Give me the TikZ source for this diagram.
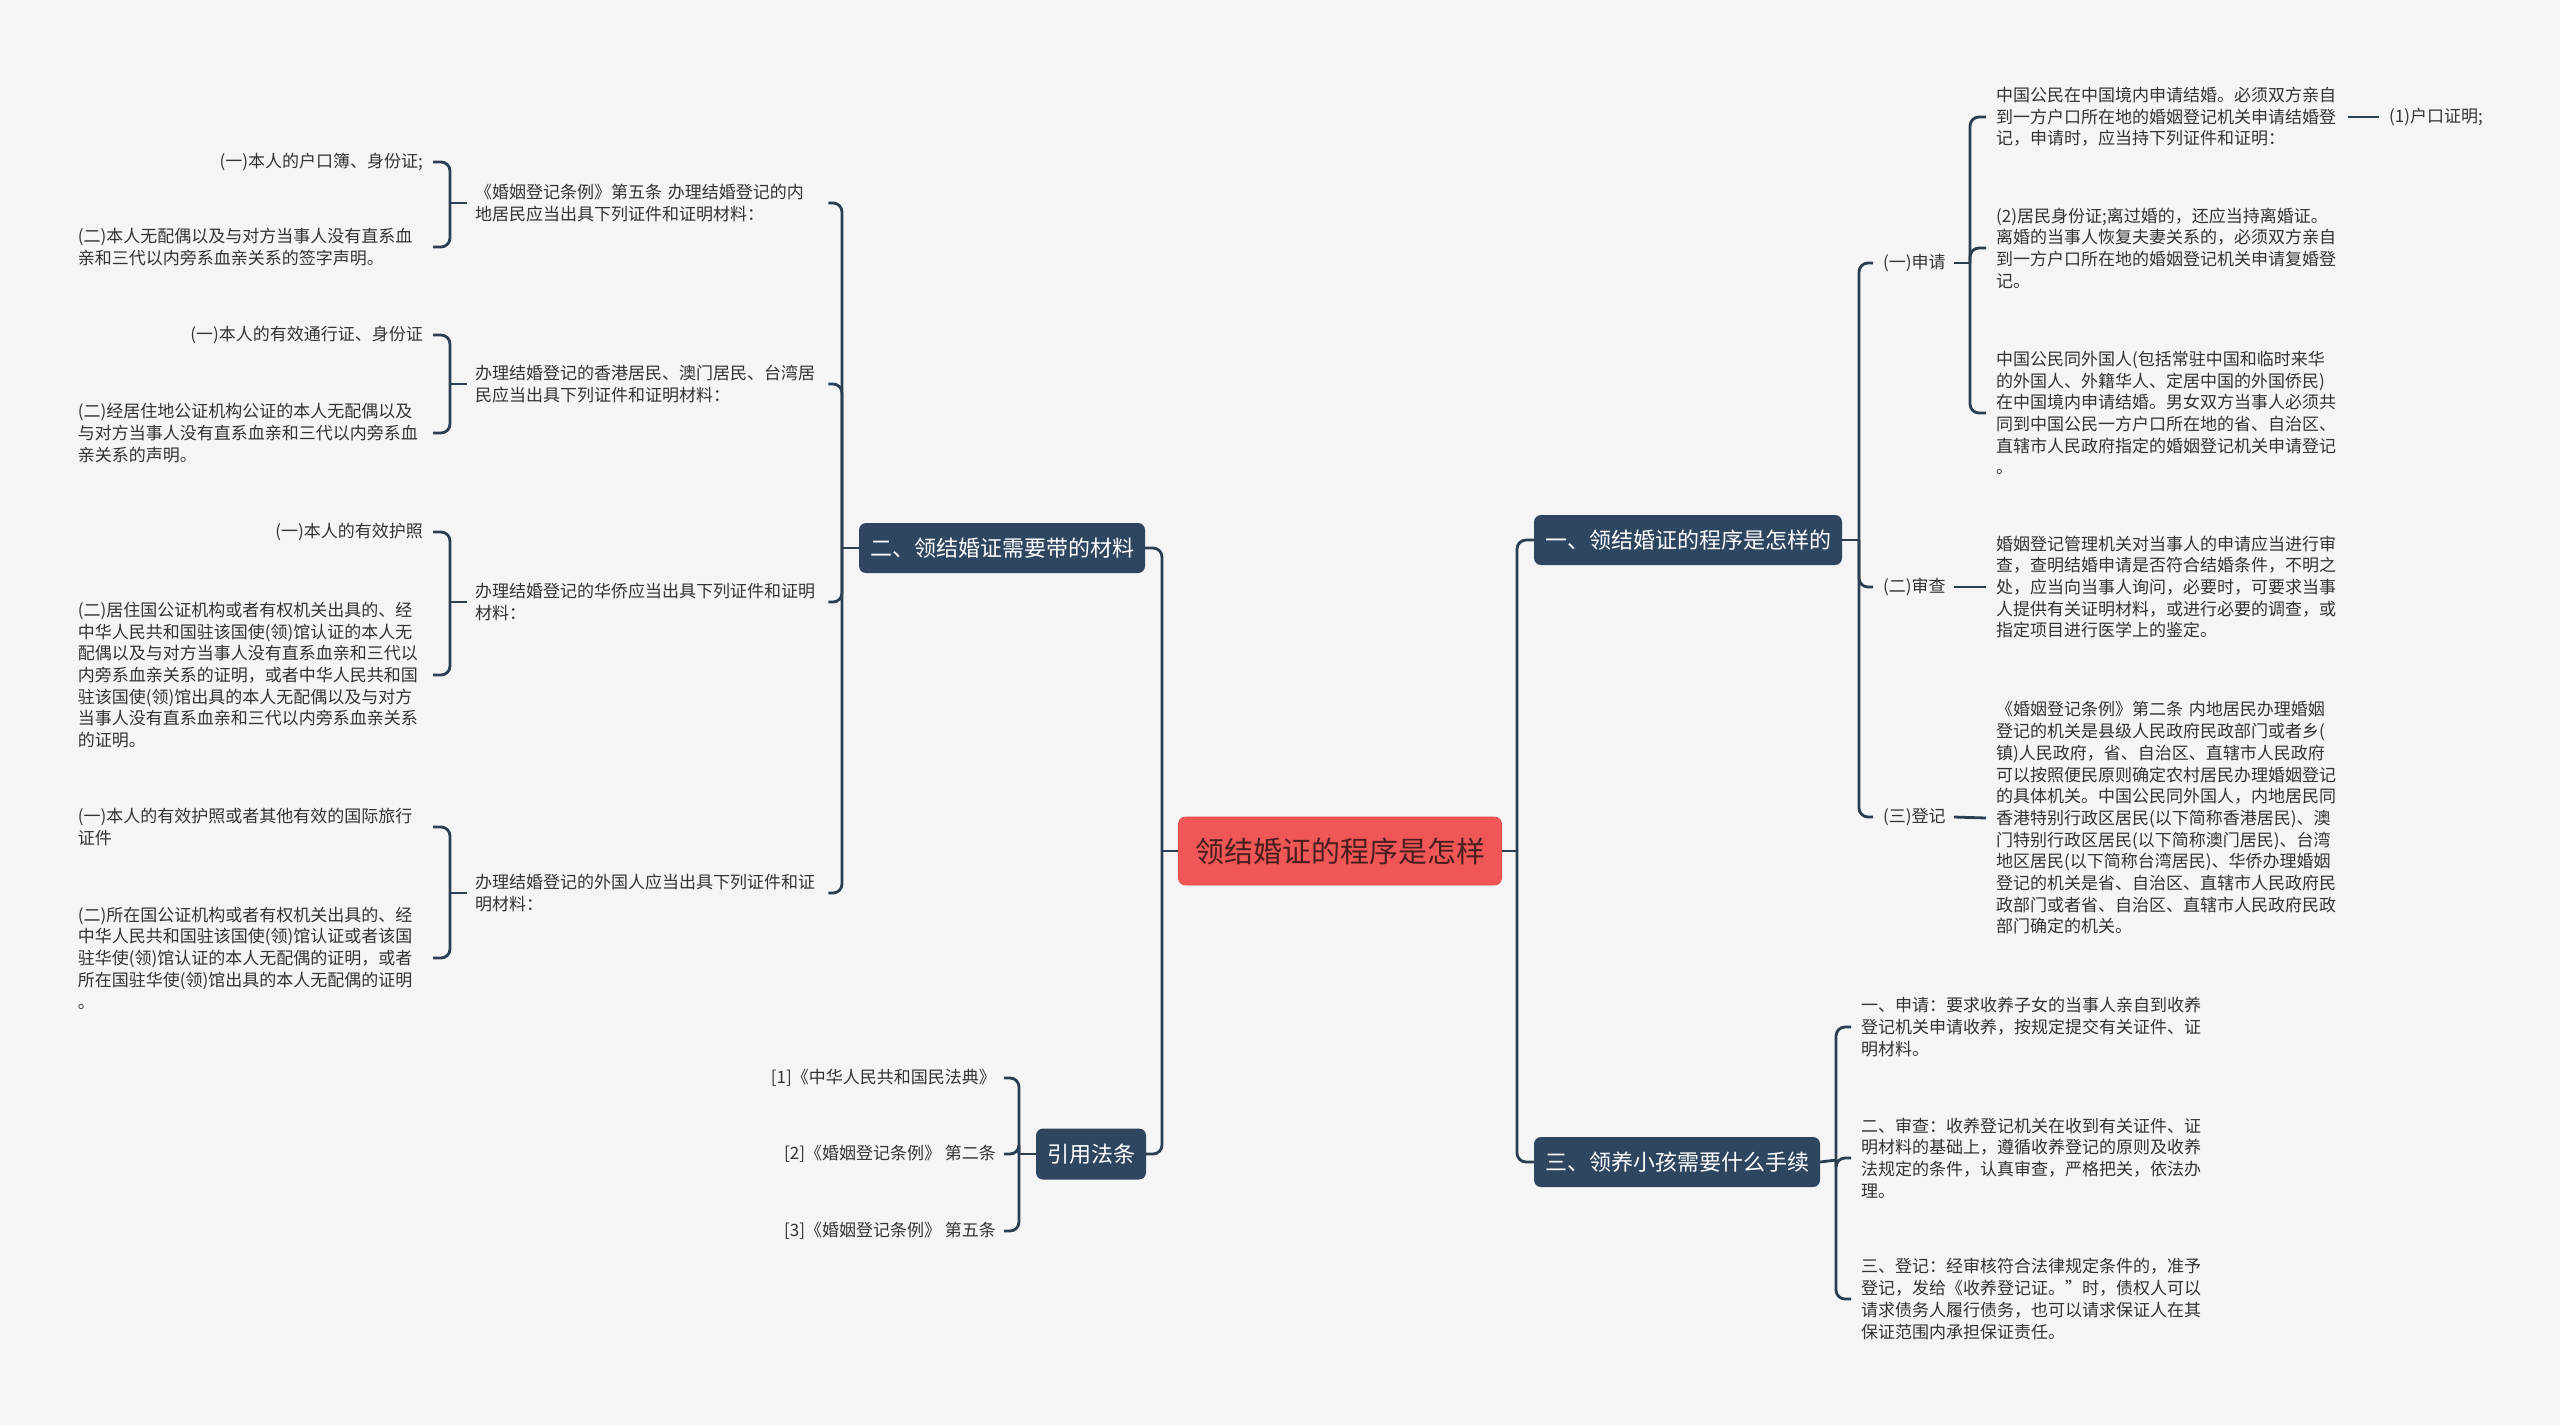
\documentclass[tikz,border=0pt]{standalone}
\usepackage{fontspec}
\setmainfont{Noto Sans CJK SC}
\definecolor{bgc}{HTML}{F5F5F5}
\definecolor{boxc}{HTML}{2F4661}
\definecolor{linec}{HTML}{2B3E52}
\definecolor{rootc}{HTML}{EF5656}
\definecolor{rootline}{HTML}{E04A4A}
\definecolor{roottxt}{HTML}{4A1E1E}
\definecolor{txtc}{HTML}{333333}
\tikzset{
  txt/.style={font=\fontsize{17}{21.7}\selectfont, text=txtc, inner sep=0pt, align=left, text width=345pt},
  txtr/.style={font=\fontsize{17}{21.7}\selectfont, text=txtc, inner sep=0pt, align=right, text width=345pt},
  lbl/.style={font=\fontsize{17}{21.7}\selectfont, text=txtc, inner sep=0pt},
  topic/.style={fill=boxc, text=white, rounded corners=7pt, font=\fontsize{22}{26}\selectfont, inner sep=0pt, minimum height=50pt},
  br/.style={draw=linec, line width=2.8pt, rounded corners=9pt},
}
\begin{document}
\begin{tikzpicture}[x=1pt,y=-1pt]
\fill[bgc] (0,0) rectangle (2560,1425);
\useasboundingbox (0,0) rectangle (2560,1425);

% root and main topics
\node[fill=rootc, draw=rootline, line width=0.8pt, rounded corners=7pt, minimum width=323pt, minimum height=68pt, inner sep=0pt, text=roottxt, font=\fontsize{29}{34}\selectfont] (root) at (1340,851) {领结婚证的程序是怎样};
\node[topic, minimum width=308pt] (B1) at (1688,540) {一、领结婚证的程序是怎样的};
\node[topic, minimum width=286pt] (B2) at (1002,548) {二、领结婚证需要带的材料};
\node[topic, minimum width=110pt, minimum height=51pt] (B3) at (1091,1154) {引用法条};
\node[topic, minimum width=286pt] (B4) at (1677,1162) {三、领养小孩需要什么手续};

\coordinate (jr) at (1517,851);
\coordinate (jl) at (1162,851);
\draw[br] (root.east) -- (jr);
\draw[br] (jr) |- (B1.west);
\draw[br] (jr) |- (B4.west);
\draw[br] (root.west) -- (jl);
\draw[br] (jl) |- (B2.east);
\draw[br] (jl) |- (B3.east);

% ===== branch 1 =====
\node[lbl, anchor=west] (S1) at (1883,263) {(一)申请};
\node[lbl, anchor=west] (S2) at (1883,587) {(二)审查};
\node[lbl, anchor=west] (S3) at (1883,817) {(三)登记};
\coordinate (j1) at (1859,540);
\draw[br] (B1.east) -- (j1);
\draw[br] (j1) |- ([xshift=-10pt]S1.west);
\draw[br] (j1) |- ([xshift=-10pt]S2.west);
\draw[br] (j1) |- ([xshift=-10pt]S3.west);

\node[txt, anchor=west] (T1) at (1996,117) {中国公民在中国境内申请结婚。必须双方亲自\\到一方户口所在地的婚姻登记机关申请结婚登\\记，申请时，应当持下列证件和证明：};
\node[txt, anchor=west] (T2) at (1996,248) {(2)居民身份证;离过婚的，还应当持离婚证。\\离婚的当事人恢复夫妻关系的，必须双方亲自\\到一方户口所在地的婚姻登记机关申请复婚登\\记。};
\node[txt, anchor=west] (T3) at (1996,413) {中国公民同外国人(包括常驻中国和临时来华\\的外国人、外籍华人、定居中国的外国侨民)\\在中国境内申请结婚。男女双方当事人必须共\\同到中国公民一方户口所在地的省、自治区、\\直辖市人民政府指定的婚姻登记机关申请登记\\。};
\node[lbl, anchor=west] (T1a) at (2389,117) {(1)户口证明;};
\coordinate (js1) at (1970,263);
\draw[br] ([xshift=8pt]S1.east) -- (js1);
\draw[br] (js1) |- ([xshift=-10pt]T1.west);
\draw[br] (js1) |- ([xshift=-10pt]T2.west);
\draw[br] (js1) |- ([xshift=-10pt]T3.west);
\draw[br] ([xshift=7pt]T1.east) -- ([xshift=-10pt]T1a.west);

\node[txt, anchor=west] (T4) at (1996,587) {婚姻登记管理机关对当事人的申请应当进行审\\查，查明结婚申请是否符合结婚条件，不明之\\处，应当向当事人询问，必要时，可要求当事\\人提供有关证明材料，或进行必要的调查，或\\指定项目进行医学上的鉴定。};
\draw[br] ([xshift=8pt]S2.east) -- ([xshift=-10pt]T4.west);

\node[txt, anchor=west] (T5) at (1996,818) {《婚姻登记条例》第二条 内地居民办理婚姻\\登记的机关是县级人民政府民政部门或者乡(\\镇)人民政府，省、自治区、直辖市人民政府\\可以按照便民原则确定农村居民办理婚姻登记\\的具体机关。中国公民同外国人，内地居民同\\香港特别行政区居民(以下简称香港居民)、澳\\门特别行政区居民(以下简称澳门居民)、台湾\\地区居民(以下简称台湾居民)、华侨办理婚姻\\登记的机关是省、自治区、直辖市人民政府民\\政部门或者省、自治区、直辖市人民政府民政\\部门确定的机关。};
\draw[br] ([xshift=8pt]S3.east) -- ([xshift=-10pt]T5.west);

% ===== branch 4 =====
\node[txt, anchor=west] (U1) at (1861,1027) {一、申请：要求收养子女的当事人亲自到收养\\登记机关申请收养，按规定提交有关证件、证\\明材料。};
\node[txt, anchor=west] (U2) at (1861,1158) {二、审查：收养登记机关在收到有关证件、证\\明材料的基础上，遵循收养登记的原则及收养\\法规定的条件，认真审查，严格把关，依法办\\理。};
\node[txt, anchor=west] (U3) at (1861,1299) {三、登记：经审核符合法律规定条件的，准予\\\mbox{登记，发给《收养登记证。”时，债权人可以}\\请求债务人履行债务，也可以请求保证人在其\\保证范围内承担保证责任。};
\coordinate (j4) at (1836,1160);
\draw[br] (B4.east) -- (j4);
\draw[br] (j4) |- ([xshift=-10pt]U1.west);
\draw[br] (j4) |- ([xshift=-10pt]U2.west);
\draw[br] (j4) |- ([xshift=-10pt]U3.west);

% ===== branch 2 =====
\node[txt, anchor=west] (L1) at (475,203) {《婚姻登记条例》第五条 办理结婚登记的内\\地居民应当出具下列证件和证明材料：};
\node[txt, anchor=west] (L2) at (475,384) {办理结婚登记的香港居民、澳门居民、台湾居\\民应当出具下列证件和证明材料：};
\node[txt, anchor=west] (L3) at (475,602) {办理结婚登记的华侨应当出具下列证件和证明\\材料：};
\node[txt, anchor=west] (L4) at (475,893) {办理结婚登记的外国人应当出具下列证件和证\\明材料：};
\coordinate (j2) at (842,548);
\draw[br] (B2.west) -- (j2);
\draw[br] (j2) |- ([xshift=8pt]L1.east);
\draw[br] (j2) |- ([xshift=8pt]L2.east);
\draw[br] (j2) |- ([xshift=8pt]L3.east);
\draw[br] (j2) |- ([xshift=8pt]L4.east);

\node[txtr, anchor=east] (L1a) at (423,162) {(一)本人的户口簿、身份证;};
\node[txt, anchor=east] (L1b) at (423,247) {(二)本人无配偶以及与对方当事人没有直系血\\亲和三代以内旁系血亲关系的签字声明。};
\coordinate (jL1) at (450,203);
\draw[br] ([xshift=-8pt]L1.west) -- (jL1);
\draw[br] (jL1) |- ([xshift=10pt]L1a.east);
\draw[br] (jL1) |- ([xshift=10pt]L1b.east);

\node[txtr, anchor=east] (L2a) at (423,335) {(一)本人的有效通行证、身份证};
\node[txt, anchor=east] (L2b) at (423,433) {(二)经居住地公证机构公证的本人无配偶以及\\与对方当事人没有直系血亲和三代以内旁系血\\亲关系的声明。};
\coordinate (jL2) at (450,384);
\draw[br] ([xshift=-8pt]L2.west) -- (jL2);
\draw[br] (jL2) |- ([xshift=10pt]L2a.east);
\draw[br] (jL2) |- ([xshift=10pt]L2b.east);

\node[txtr, anchor=east] (L3a) at (423,532) {(一)本人的有效护照};
\node[txt, anchor=east] (L3b) at (423,675) {(二)居住国公证机构或者有权机关出具的、经\\中华人民共和国驻该国使(领)馆认证的本人无\\配偶以及与对方当事人没有直系血亲和三代以\\内旁系血亲关系的证明，或者中华人民共和国\\驻该国使(领)馆出具的本人无配偶以及与对方\\当事人没有直系血亲和三代以内旁系血亲关系\\的证明。};
\coordinate (jL3) at (450,602);
\draw[br] ([xshift=-8pt]L3.west) -- (jL3);
\draw[br] (jL3) |- ([xshift=10pt]L3a.east);
\draw[br] (jL3) |- ([xshift=10pt]L3b.east);

\node[txt, anchor=east] (L4a) at (423,827) {(一)本人的有效护照或者其他有效的国际旅行\\证件};
\node[txt, anchor=east] (L4b) at (423,958) {(二)所在国公证机构或者有权机关出具的、经\\中华人民共和国驻该国使(领)馆认证或者该国\\驻华使(领)馆认证的本人无配偶的证明，或者\\所在国驻华使(领)馆出具的本人无配偶的证明\\。};
\coordinate (jL4) at (450,893);
\draw[br] ([xshift=-8pt]L4.west) -- (jL4);
\draw[br] (jL4) |- ([xshift=10pt]L4a.east);
\draw[br] (jL4) |- ([xshift=10pt]L4b.east);

% ===== branch 3 =====
\node[lbl, anchor=east] (R1) at (996,1078) {[1]《中华人民共和国民法典》};
\node[lbl, anchor=east] (R2) at (996,1154) {[2]《婚姻登记条例》 第二条};
\node[lbl, anchor=east] (R3) at (996,1231) {[3]《婚姻登记条例》 第五条};
\coordinate (j3) at (1019,1154);
\draw[br] (B3.west) -- (j3);
\draw[br] (j3) |- ([xshift=8pt]R1.east);
\draw[br] (j3) |- ([xshift=8pt]R2.east);
\draw[br] (j3) |- ([xshift=8pt]R3.east);
\end{tikzpicture}
\end{document}
